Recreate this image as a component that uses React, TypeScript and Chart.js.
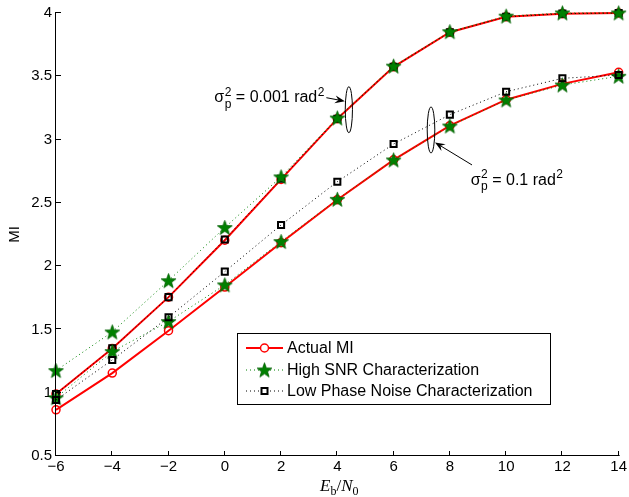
import { useEffect, useRef } from "react";
import { Chart, registerables } from "chart.js";

Chart.register(...registerables);

// Eb/N0 in dB
const ebN0 = [-6, -4, -2, 0, 2, 4, 6, 8, 10, 12, 14];

// Phase noise variance 0.001 rad^2
const actualMiSmall = [0.99, 1.35, 1.755, 2.205, 2.685, 3.165, 3.575, 3.848, 3.97, 3.995, 4.0];
const highSnrSmall = [1.175, 1.48, 1.885, 2.305, 2.705, 3.17, 3.58, 3.852, 3.975, 4.0, 4.0];
const lowPnSmall = [0.99, 1.35, 1.755, 2.21, 2.69, 3.165, 3.575, 3.848, 3.97, 3.995, 4.0];

// Phase noise variance 0.1 rad^2
const actualMiLarge = [0.865, 1.155, 1.49, 1.835, 2.185, 2.525, 2.84, 3.11, 3.315, 3.44, 3.532];
const highSnrLarge = [0.96, 1.325, 1.562, 1.852, 2.194, 2.528, 2.839, 3.107, 3.313, 3.431, 3.5];
const lowPnLarge = [0.943, 1.259, 1.596, 1.957, 2.325, 2.667, 2.965, 3.197, 3.378, 3.484, 3.51];

const xTickValues = [-6, -4, -2, 0, 2, 4, 6, 8, 10, 12, 14];
const yTickValues = [0.5, 1, 1.5, 2, 2.5, 3, 3.5, 4];

const legendLabels = ["Actual MI", "High SNR Characterization", "Low Phase Noise Characterization"];
const varianceLabels = ["0.001", "0.1"];

const SANS = '"Liberation Sans", Arial, sans-serif';
const SERIF = '"Liberation Serif", "Times New Roman", serif';
const RED = "#ff0000";
const GREEN = "#008000";

function makeStar(): HTMLCanvasElement {
  const size = 17;
  const c = document.createElement("canvas");
  c.width = size;
  c.height = size;
  const ctx = c.getContext("2d")!;
  const cx = size / 2;
  const cy = size / 2 + 0.6;
  const R = 7.8;
  const r = 3.2;
  ctx.beginPath();
  for (let i = 0; i < 10; i++) {
    const ang = -Math.PI / 2 + (i * Math.PI) / 5;
    const rad = i % 2 === 0 ? R : r;
    ctx.lineTo(cx + rad * Math.cos(ang), cy + rad * Math.sin(ang));
  }
  ctx.closePath();
  ctx.fillStyle = GREEN;
  ctx.fill();
  ctx.strokeStyle = "#006000";
  ctx.lineWidth = 0.8;
  ctx.stroke();
  return c;
}

const toPoints = (ys: number[]) => ebN0.map((x, i) => ({ x, y: ys[i] }));

function drawArrow(ctx: CanvasRenderingContext2D, x1: number, y1: number, x2: number, y2: number) {
  const ang = Math.atan2(y2 - y1, x2 - x1);
  const len = 10;
  const half = 4;
  const notch = 6.5;
  ctx.strokeStyle = "#000";
  ctx.lineWidth = 1;
  ctx.beginPath();
  ctx.moveTo(x1, y1);
  ctx.lineTo(x2 - Math.cos(ang) * notch, y2 - Math.sin(ang) * notch);
  ctx.stroke();
  const bx = x2 - Math.cos(ang) * len;
  const by = y2 - Math.sin(ang) * len;
  const nx = -Math.sin(ang);
  const ny = Math.cos(ang);
  ctx.fillStyle = "#000";
  ctx.beginPath();
  ctx.moveTo(x2, y2);
  ctx.lineTo(bx + nx * half, by + ny * half);
  ctx.lineTo(x2 - Math.cos(ang) * notch, y2 - Math.sin(ang) * notch);
  ctx.lineTo(bx - nx * half, by - ny * half);
  ctx.closePath();
  ctx.fill();
}

function drawVarianceLabel(ctx: CanvasRenderingContext2D, x: number, baseline: number, value: string) {
  ctx.fillStyle = "#000";
  ctx.textAlign = "left";
  ctx.textBaseline = "alphabetic";
  ctx.font = `16px ${SANS}`;
  ctx.fillText("\u03c3", x, baseline);
  const wSigma = ctx.measureText("\u03c3").width;
  ctx.font = `12px ${SANS}`;
  const sx = x + wSigma + 0.5;
  ctx.fillText("2", sx, baseline - 6.5);
  ctx.fillText("p", sx, baseline + 5.5);
  const wScript = Math.max(ctx.measureText("2").width, ctx.measureText("p").width);
  ctx.font = `16px ${SANS}`;
  const main = ` = ${value} rad`;
  const mx = sx + wScript;
  ctx.fillText(main, mx, baseline);
  const wMain = ctx.measureText(main).width;
  ctx.font = `12px ${SANS}`;
  ctx.fillText("2", mx + wMain + 0.5, baseline - 6.5);
}

function drawAxisTitle(ctx: CanvasRenderingContext2D, cx: number, baseline: number) {
  const parts: { t: string; font: string; dy: number }[] = [
    { t: "E", font: `italic 17px ${SERIF}`, dy: 0 },
    { t: "b", font: `12px ${SERIF}`, dy: 4 },
    { t: "/", font: `17px ${SERIF}`, dy: 0 },
    { t: "N", font: `italic 17px ${SERIF}`, dy: 0 },
    { t: "0", font: `12px ${SERIF}`, dy: 4 },
  ];
  let total = 0;
  const widths = parts.map((p) => {
    ctx.font = p.font;
    const w = ctx.measureText(p.t).width;
    total += w;
    return w;
  });
  let x = cx - total / 2;
  ctx.fillStyle = "#000";
  ctx.textAlign = "left";
  ctx.textBaseline = "alphabetic";
  parts.forEach((p, i) => {
    ctx.font = p.font;
    ctx.fillText(p.t, x, baseline + p.dy);
    x += widths[i];
  });
}

export default function App() {
  const canvasRef = useRef<HTMLCanvasElement | null>(null);

  useEffect(() => {
    document.body.style.margin = "0";
    const canvas = canvasRef.current;
    if (!canvas) return;
    const star = makeStar();

    const decorations = {
      id: "decorations",
      afterDraw(chart: Chart) {
        const ctx = chart.ctx;
        const { left, bottom } = chart.chartArea;
        const xs = chart.scales.x;
        const ys = chart.scales.y;
        ctx.save();

        // axis lines
        ctx.strokeStyle = "#000";
        ctx.lineWidth = 1;
        ctx.beginPath();
        ctx.moveTo(Math.round(left) - 0.5, chart.chartArea.top - 1);
        ctx.lineTo(Math.round(left) - 0.5, Math.round(bottom) - 0.5);
        ctx.lineTo(chart.chartArea.right + 1, Math.round(bottom) - 0.5);
        ctx.stroke();

        // inward tick marks
        ctx.beginPath();
        yTickValues.forEach((v) => {
          const py = Math.round(ys.getPixelForValue(v)) - 0.5;
          ctx.moveTo(left, py);
          ctx.lineTo(left + 5, py);
        });
        xTickValues.forEach((v) => {
          const px = Math.round(xs.getPixelForValue(v)) - 0.5;
          ctx.moveTo(px, bottom);
          ctx.lineTo(px, bottom - 5);
        });
        ctx.stroke();

        // axis titles
        ctx.save();
        ctx.translate(15, (chart.chartArea.top + bottom) / 2);
        ctx.rotate(-Math.PI / 2);
        ctx.font = `15px ${SANS}`;
        ctx.fillStyle = "#000";
        ctx.textAlign = "center";
        ctx.textBaseline = "middle";
        ctx.fillText("MI", 0, 0);
        ctx.restore();
        drawAxisTitle(ctx, (left + chart.chartArea.right) / 2 + 2, 491);

        // variance annotations: ellipse around the curve group, arrow and label
        const e1x = xs.getPixelForValue(4.41);
        const e1y = ys.getPixelForValue(3.236);
        const e2x = xs.getPixelForValue(7.33);
        const e2y = ys.getPixelForValue(3.076);
        ctx.strokeStyle = "#000";
        ctx.lineWidth = 1;
        ctx.beginPath();
        ctx.ellipse(e1x, e1y, 3.6, 23, 0, 0, Math.PI * 2);
        ctx.stroke();
        ctx.beginPath();
        ctx.ellipse(e2x, e2y, 3.8, 23, 0, 0, Math.PI * 2);
        ctx.stroke();
        drawArrow(ctx, e1x - 22.5, e1y - 12, e1x - 4, e1y - 8.5);
        drawArrow(ctx, e2x + 41, e2y + 35, e2x + 4, e2y + 12.5);
        drawVarianceLabel(ctx, e1x - 134.5, e1y - 7.5, varianceLabels[0]);
        drawVarianceLabel(ctx, e2x + 39.7, e2y + 55, varianceLabels[1]);

        // legend
        const lx = 237.5;
        const ly = 333.5;
        const lw = 313;
        const lh = 71;
        ctx.fillStyle = "#fff";
        ctx.fillRect(lx, ly, lw, lh);
        ctx.strokeStyle = "#000";
        ctx.lineWidth = 1;
        ctx.strokeRect(lx, ly, lw, lh);
        const rows = [348, 370, 391];
        const sx1 = 246;
        const sx2 = 283;
        const mx = (sx1 + sx2) / 2;
        ctx.font = `16px ${SANS}`;
        ctx.textAlign = "left";
        ctx.textBaseline = "middle";
        rows.forEach((ry, i) => {
          ctx.save();
          if (i === 0) {
            ctx.strokeStyle = RED;
            ctx.lineWidth = 2;
          } else {
            ctx.strokeStyle = i === 1 ? GREEN : "#000";
            ctx.lineWidth = 1;
            ctx.setLineDash([1, 3]);
          }
          ctx.beginPath();
          ctx.moveTo(sx1, ry);
          ctx.lineTo(sx2, ry);
          ctx.stroke();
          ctx.restore();
          if (i === 0) {
            ctx.strokeStyle = RED;
            ctx.lineWidth = 1.5;
            ctx.beginPath();
            ctx.arc(mx, ry, 4, 0, Math.PI * 2);
            ctx.fillStyle = "#fff";
            ctx.fill();
            ctx.stroke();
          } else if (i === 1) {
            ctx.drawImage(star, mx - star.width / 2, ry - star.height / 2);
          } else {
            ctx.strokeStyle = "#000";
            ctx.lineWidth = 2;
            ctx.fillStyle = "#fff";
            ctx.fillRect(mx - 3, ry - 3, 6, 6);
            ctx.strokeRect(mx - 3, ry - 3, 6, 6);
          }
          ctx.fillStyle = "#000";
          ctx.fillText(legendLabels[i], 287, ry + 1);
        });

        ctx.restore();
      },
    };

    const redSeries = (ys: number[]) => ({
      data: toPoints(ys),
      borderColor: RED,
      borderWidth: 2,
      pointStyle: "circle" as const,
      pointRadius: 4,
      pointBorderWidth: 1.5,
      pointBorderColor: RED,
      pointBackgroundColor: "rgba(0,0,0,0)",
      clip: false as const,
      order: 6,
    });
    const greenSeries = (ys: number[], order: number) => ({
      data: toPoints(ys),
      borderColor: GREEN,
      borderWidth: 1,
      borderDash: [1, 3],
      pointStyle: star,
      pointRadius: 7,
      clip: false as const,
      order,
    });
    const blackSeries = (ys: number[], order: number) => ({
      data: toPoints(ys),
      borderColor: "#000",
      borderWidth: 1,
      borderDash: [1, 3],
      pointStyle: "rect" as const,
      pointRadius: 4.3,
      pointBorderWidth: 2,
      pointBorderColor: "#000",
      pointBackgroundColor: "rgba(0,0,0,0)",
      clip: false as const,
      order,
    });

    const chart = new Chart(canvas, {
      type: "line",
      data: {
        datasets: [
          redSeries(actualMiSmall),
          redSeries(actualMiLarge),
          blackSeries(lowPnSmall, 4),
          greenSeries(highSnrSmall, 3),
          greenSeries(highSnrLarge, 2),
          blackSeries(lowPnLarge, 1),
        ] as any,
      },
      options: {
        responsive: false,
        animation: false,
        events: [],
        layout: { padding: { left: 0, top: 13, right: 9, bottom: 0 } },
        elements: { line: { tension: 0 } },
        plugins: {
          legend: { display: false },
          tooltip: { enabled: false },
        },
        scales: {
          x: {
            type: "linear",
            min: -6,
            max: 14,
            afterFit: (s: any) => {
              s.height = 41;
            },
            grid: { display: false, drawTicks: false },
            border: { display: false },
            ticks: {
              stepSize: 2,
              padding: 2,
              color: "#000",
              font: { family: SANS, size: 15 },
              maxRotation: 0,
              callback: (v: any) => String(Number(v)).replace("-", "\u2212"),
            },
          },
          y: {
            type: "linear",
            min: 0.5,
            max: 4,
            afterFit: (s: any) => {
              s.width = 56;
            },
            grid: { display: false, drawTicks: false },
            border: { display: false },
            ticks: {
              stepSize: 0.5,
              padding: 4,
              color: "#000",
              font: { family: SANS, size: 15 },
              callback: (v: any) => String(Number(v)),
            },
          },
        },
      },
      plugins: [decorations],
    });

    return () => chart.destroy();
  }, []);

  return (
    <div style={{ width: 629, height: 497 }}>
      <canvas ref={canvasRef} width={629} height={497} style={{ display: "block" }} />
    </div>
  );
}
